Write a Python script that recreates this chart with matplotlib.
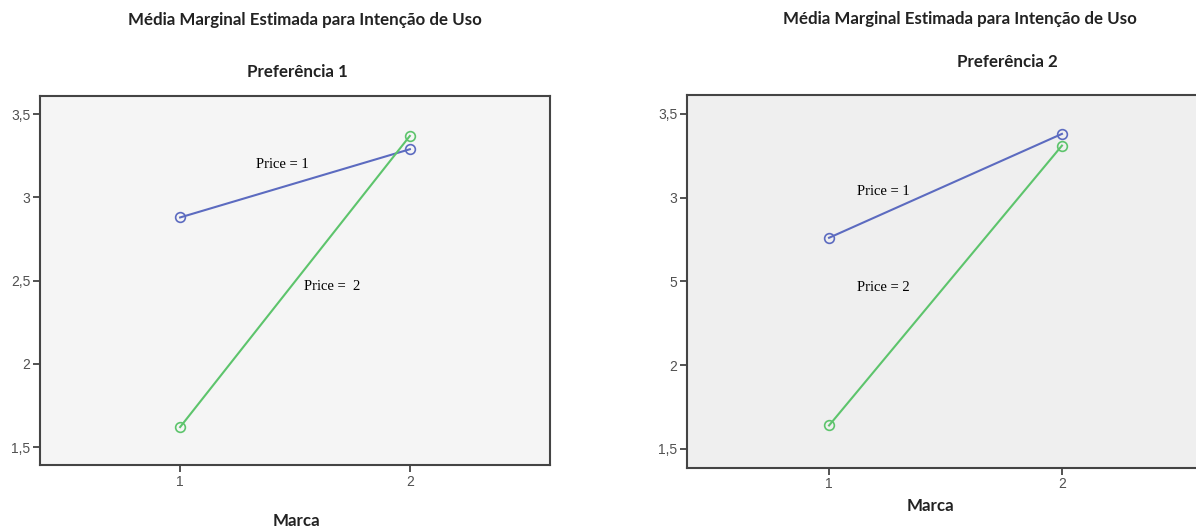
import matplotlib.pyplot as plt

# data
marca = [1, 2]
pref1_price1 = [2.88, 3.29]
pref1_price2 = [1.62, 3.37]
pref2_price1 = [2.76, 3.38]
pref2_price2 = [1.64, 3.31]

yticks = [1.5, 2.0, 2.5, 3.0, 3.5]
yticklabels_1 = ['1,5', '2', '2,5', '3', '3,5']
yticklabels_2 = ['1,5', '2', '5', '3', '3,5']   # typo kept as in the source

BLUE = '#5c6bc0'
GREEN = '#5dc46c'
TITLE_FONT = ['Lato', 'DejaVu Sans']
TICK_FONT = ['Liberation Sans', 'DejaVu Sans']
SERIF = ['Liberation Serif', 'DejaVu Serif']

W, H = 1196, 528
fig = plt.figure(figsize=(W / 100, H / 100), dpi=100)
fig.patch.set_facecolor('white')

ax1 = fig.add_axes([40/W, 1-465/H, 510/W, 369/H])
ax2 = fig.add_axes([687/W, 1-467.7/H, 517/W, 372.7/H])

def style(ax, bg, labels, ylim):
    ax.set_facecolor(bg)
    ax.set_xlim(0.39, 2.61)
    ax.set_ylim(*ylim)
    ax.set_xticks(marca)
    ax.set_xticklabels(['1', '2'], family=TICK_FONT, fontsize=10, color='#505050')
    ax.set_yticks(yticks)
    ax.set_yticklabels(labels, family=TICK_FONT, fontsize=10, color='#505050')
    ax.tick_params(direction='out', length=5, width=1.3, color='#444444', pad=2)
    for s in ax.spines.values():
        s.set_color('#444444')
        s.set_linewidth(1.5)

def draw(ax, s1, s2):
    ax.plot(marca, s1, '-o', color=BLUE, lw=1.5, ms=7, mfc='none', mew=1.2)
    ax.plot(marca, s2, '-o', color=GREEN, lw=1.5, ms=7, mfc='none', mew=1.2)

style(ax1, '#f5f5f5', yticklabels_1, (1.392, 3.61))
style(ax2, '#efefef', yticklabels_2, (1.388, 3.612))
draw(ax1, pref1_price1, pref1_price2)
draw(ax2, pref2_price1, pref2_price2)

ax1.text(1.33, 3.2, 'Price = 1', family=SERIF, fontsize=10.5, ha='left', va='center')
ax1.text(1.539, 2.462, 'Price =  2', family=SERIF, fontsize=10.5, ha='left', va='center')
ax2.text(1.119, 3.035, 'Price = 1', family=SERIF, fontsize=10.5, ha='left', va='center')
ax2.text(1.119, 2.466, 'Price = 2', family=SERIF, fontsize=10.5, ha='left', va='center')

title = 'Média Marginal Estimada para Intenção de Uso'
tkw = dict(family=TITLE_FONT, fontsize=12.2, fontweight='bold', ha='center',
           va='center', color='#222222')
fig.text(305/W, 1-20/H, title, **tkw)
fig.text(960/W, 1-19/H, title, **tkw)
fig.text(297/W, 1-72/H, 'Preferência 1', **tkw)
fig.text(1007/W, 1-62/H, 'Preferência 2', **tkw)
fig.text(296/W, 1-521/H, 'Marca', **tkw)
fig.text(930/W, 1-506/H, 'Marca', **tkw)

fig.savefig('out.png', dpi=100)
